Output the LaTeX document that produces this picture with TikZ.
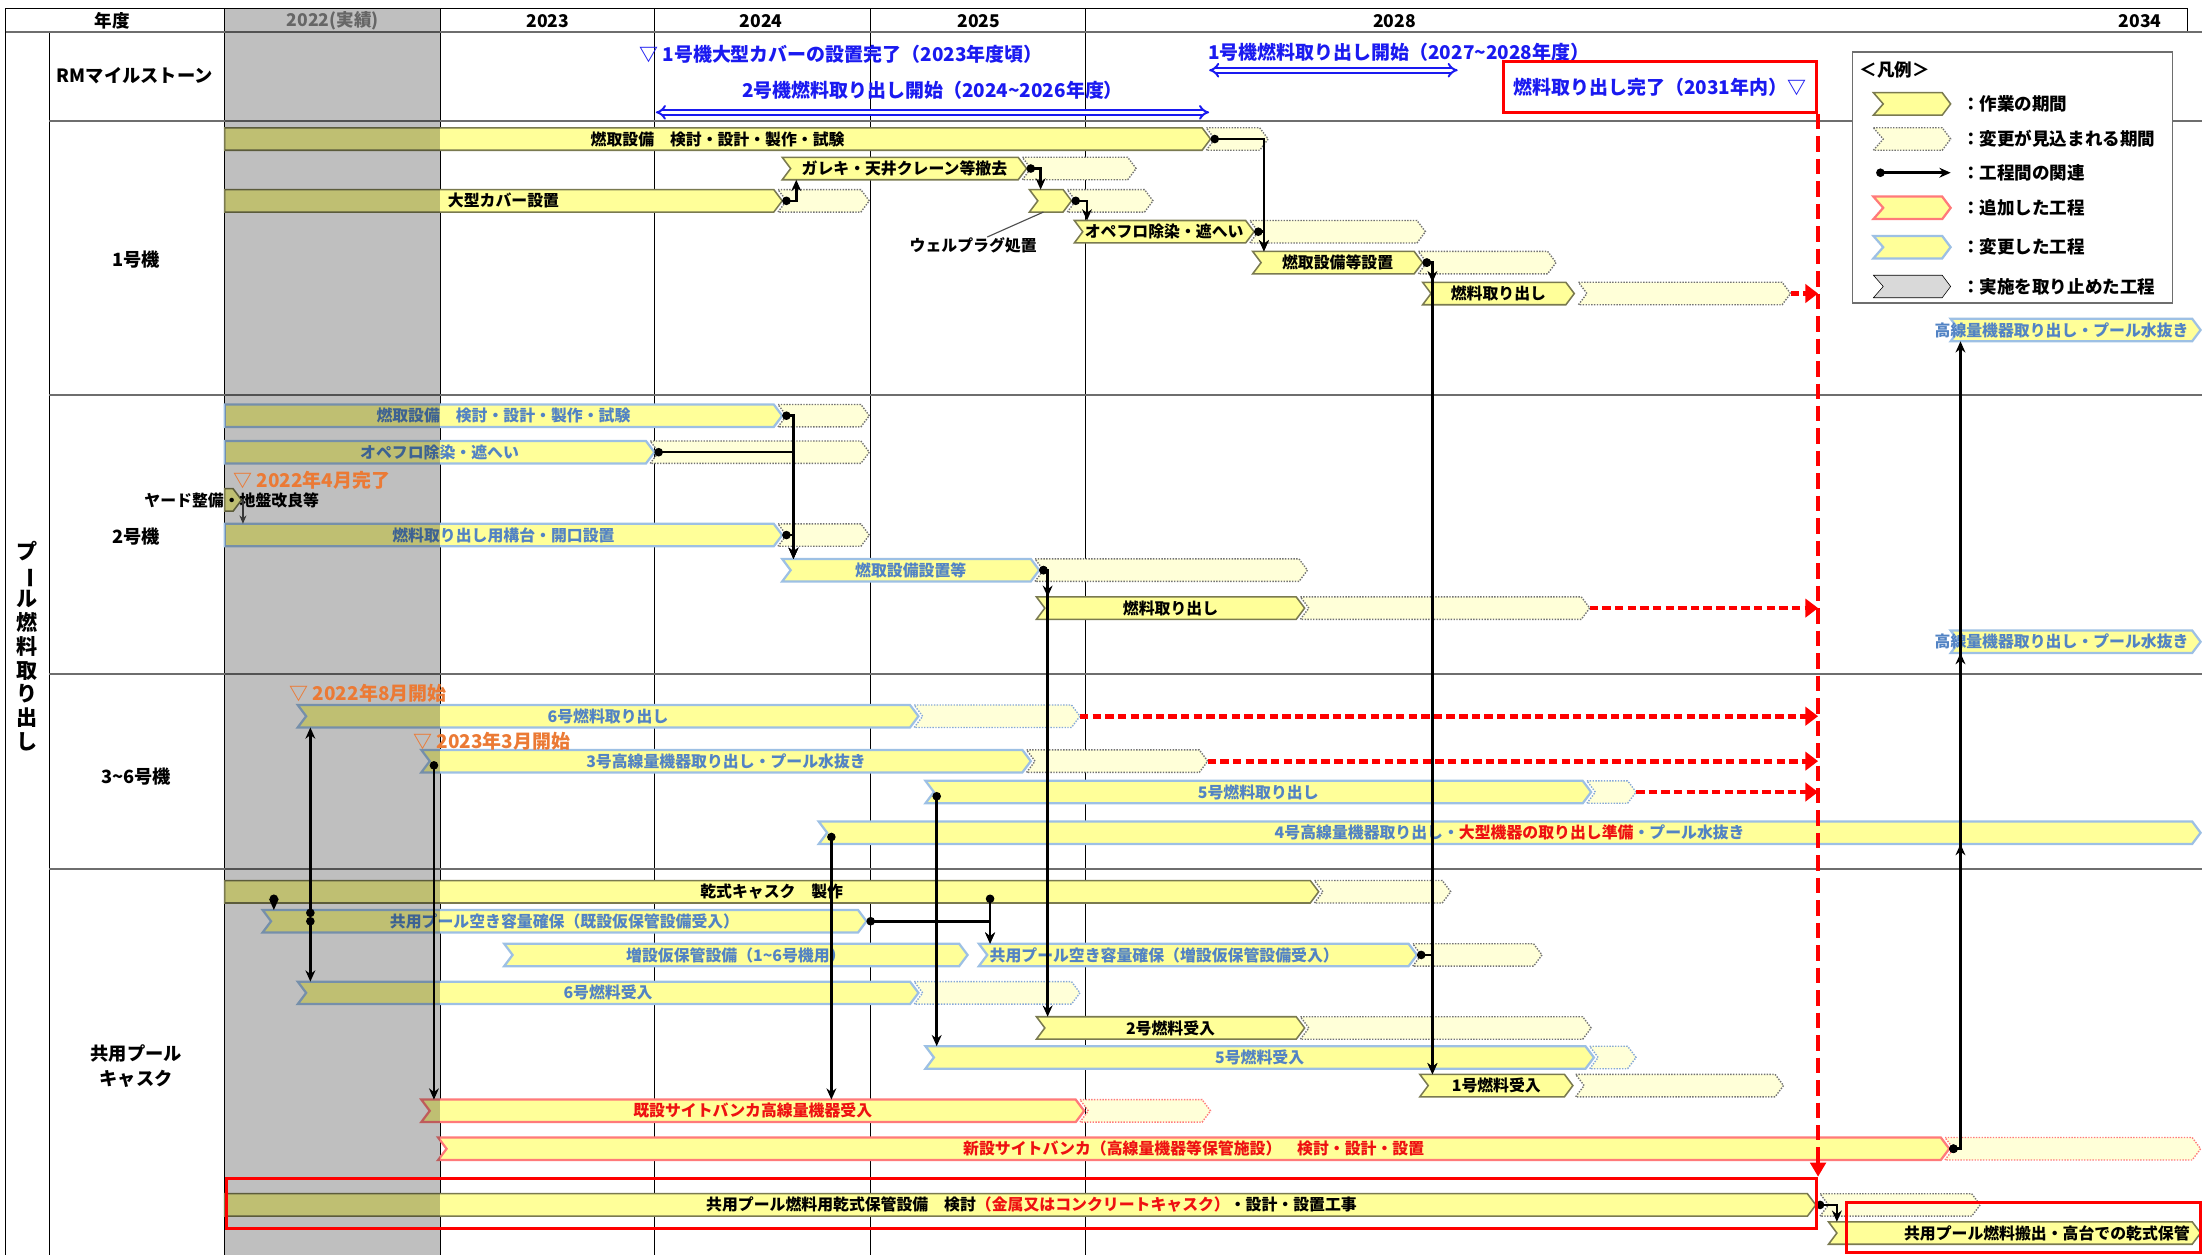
\documentclass[tikz,border=0pt]{standalone}
\usepackage{fontspec}
\setmainfont{Noto Sans CJK JP}
\usepackage{tikz}
\usetikzlibrary{arrows.meta,positioning,calc}
\definecolor{barfill}{HTML}{FFFF99}
\definecolor{slackfill}{HTML}{FFFFD8}
\definecolor{workedge}{HTML}{7A7A50}
\definecolor{chgedge}{HTML}{9DC0E4}
\definecolor{chgink}{HTML}{5283C4}
\definecolor{addedge}{HTML}{FF7A7A}
\definecolor{addink}{HTML}{EE1111}
\definecolor{rmblue}{HTML}{1A1AF0}
\definecolor{msorange}{HTML}{EB7A35}
\definecolor{gridline}{HTML}{6E6E6E}
\definecolor{stopgray}{HTML}{D9D9D9}

% one chevron: style, x start, x end, y, depth of the left notch
\newcommand{\chevron}[5]{\draw[#1] (#2,#4-8) -- (#3-6,#4-8) -- (#3,#4) -- (#3-6,#4+8) -- (#2,#4+8) -- (#2+#5,#4) -- cycle;}
\newcommand{\taskbar}[8][]{%
  \chevron{#3bar}{#4}{#5}{#6}{#7}
  \coordinate (#2-s) at (#4,#6);
  \coordinate (#2-e) at (#5,#6);
  \node[#3text,#1] (#2) at ({(#4+#5)/2},#6) {#8};}
\newcommand{\slackbar}[5]{%
  \chevron{#2slack}{#3}{#4}{#5}{6}
  \coordinate (#1-e) at (#4,#5);}

\tikzset{
  workbar/.style={draw=workedge, fill=barfill, line width=1.1pt},
  chgbar/.style={draw=chgedge, fill=barfill, line width=1.6pt},
  addbar/.style={draw=addedge, fill=barfill, line width=1.6pt},
  stopbar/.style={fill=stopgray},
  workslack/.style={draw=gray!90!black, fill=slackfill, line width=1pt, densely dotted},
  chgslack/.style={draw=chgink!70, fill=slackfill, line width=1pt, densely dotted},
  addslack/.style={draw=addedge, fill=slackfill, line width=1pt, densely dotted},
  worktext/.style={inner sep=0pt, font=\bfseries\fontsize{11.3}{13}\selectfont, text=black},
  chgtext/.style={worktext, text=chgink},
  addtext/.style={worktext, text=addink},
  link/.style={draw=black, line width=1.8pt, {Circle[length=6pt]}-{Stealth[length=8pt,width=7pt]}},
  thinlink/.style={draw=black!70, line width=1pt, -{Stealth[length=6pt,width=5pt]}},
  redflow/.style={draw=red, line width=3.4pt, dash pattern=on 6pt off 3pt, -{Triangle[length=9pt,width=13pt]}},
  redvert/.style={draw=red, line width=2.4pt, dash pattern=on 11pt off 5pt, -{Triangle[length=10pt,width=11pt]}},
  redframe/.style={draw=red, line width=2.2pt},
  rmspan/.style={draw=rmblue, double=white, double distance=2pt, line width=1.4pt, {Implies}-{Implies}},
  rowlab/.style={font=\bfseries\fontsize{13}{18}\selectfont, align=center},
  yearlab/.style={font=\bfseries\fontsize{12.5}{14}\selectfont},
  rmnote/.style={text=rmblue, font=\bfseries\fontsize{13.5}{15}\selectfont, inner sep=0pt},
  msnote/.style={text=msorange, font=\bfseries\fontsize{13.5}{15}\selectfont, inner sep=0pt, anchor=west},
  legendtext/.style={anchor=west, inner sep=0pt, font=\bfseries\fontsize{12.5}{14}\selectfont},
  rowline/.style={draw=gridline, line width=1.5pt},
  colline/.style={draw=black, line width=0.7pt}
}

\begin{document}
\begin{tikzpicture}[x=1pt,y=-1pt]
\useasboundingbox (0,0) rectangle (1568,894);

% table
\draw[colline] (4,6) -- (1558,6) (4,6) -- (4,894) (1558,6) -- (1558,23) (35,23) -- (35,894);
\foreach \x in {160,313.5,466,619.5,773} \draw[colline] (\x,6) -- (\x,894);
\draw[rowline] (4,23) -- (1568,23);
\foreach \y in {86,281,480,619} \draw[rowline] (35,\y) -- (1568,\y);

% 1号機
\taskbar{u1design}{work}{160}{862}{99}{0}{燃取設備　検討・設計・製作・試験}
\slackbar{s1design}{work}{859}{903}{99}
\taskbar{u1debris}{work}{557}{731}{120}{6}{ガレキ・天井クレーン等撤去}
\slackbar{s1debris}{work}{728}{809}{120}
\taskbar{u1cover}{work}{160}{557}{143}{0}{大型カバー設置}
\slackbar{s1cover}{work}{554}{619}{143}
\taskbar{u1plug}{work}{733}{763}{143}{6}{}
\slackbar{s1plug}{work}{760}{821}{143}
\taskbar{u1opfl}{work}{765}{893}{165}{6}{オペフロ除染・遮へい}
\slackbar{s1opfl}{work}{890}{1015}{165}
\taskbar{u1equip}{work}{892}{1013}{187}{6}{燃取設備等設置}
\slackbar{s1equip}{work}{1010}{1108}{187}
\taskbar{u1fuel}{work}{1013}{1121}{209}{6}{燃料取り出し}
\slackbar{s1fuel}{work}{1124}{1275}{209}
\taskbar[xshift=-10pt]{u1hdose}{chg}{1389}{1567}{235}{6}{高線量機器取り出し・プール水抜き}
\node[worktext] (pluglab) at (693,174.5) {ウェルプラグ処置};
\draw[black!70, line width=0.8pt] ($(pluglab.north)+(10,0)$) -- ($(u1plug-s)+(10,8)$);

% 2号機
\taskbar{u2design}{chg}{160}{557}{296}{0}{燃取設備　検討・設計・製作・試験}
\slackbar{s2design}{work}{554}{619}{296}
\taskbar{u2opfl}{chg}{160}{466}{322}{0}{オペフロ除染・遮へい}
\slackbar{s2opfl}{work}{463}{619}{322}
\taskbar{u2yard}{work}{160}{172}{356}{0}{}
\node[worktext] (yardlab) at (165,356) {ヤード整備・地盤改良等};
\taskbar{u2stage}{chg}{160}{557}{381}{0}{燃料取り出し用構台・開口設置}
\slackbar{s2stage}{work}{554}{619}{381}
\taskbar{u2equip}{chg}{557}{740}{406}{6}{燃取設備設置等}
\slackbar{s2equip}{work}{737}{931}{406}
\taskbar{u2fuel}{work}{738}{929}{433}{6}{燃料取り出し}
\slackbar{s2fuel}{work}{926}{1132}{433}
\taskbar[xshift=-10pt]{u2hdose}{chg}{1389}{1567}{457}{6}{高線量機器取り出し・プール水抜き}

% 3~6号機
\taskbar{u6fuel}{chg}{212}{654}{510}{6}{6号燃料取り出し}
\slackbar{s6fuel}{chg}{651}{769}{510}
\taskbar{u3hdose}{chg}{300}{734}{542}{6}{3号高線量機器取り出し・プール水抜き}
\slackbar{s3hdose}{work}{731}{860}{542}
\taskbar{u5fuel}{chg}{659}{1133}{564}{6}{5号燃料取り出し}
\slackbar{s5fuel}{chg}{1130}{1165}{564}
\taskbar{u4hdose}{chg}{583}{1567}{593}{6}{4号高線量機器取り出し・\textcolor{addink}{大型機器の取り出し準備}・プール水抜き}

% 共用プール・キャスク
\taskbar{cask}{work}{160}{939}{635}{0}{乾式キャスク　製作}
\slackbar{scask}{work}{936}{1033}{635}
\taskbar{pool1}{chg}{187}{617}{656}{6}{共用プール空き容量確保（既設仮保管設備受入）}
\taskbar{tempst}{chg}{359}{689}{680}{6}{増設仮保管設備（1\textasciitilde 6号機用）}
\taskbar[xshift=-24pt]{pool2}{chg}{697}{1009}{680}{6}{共用プール空き容量確保（増設仮保管設備受入）}
\slackbar{spool2}{work}{1006}{1098}{680}
\taskbar{recv6}{chg}{212}{654}{707}{6}{6号燃料受入}
\slackbar{srecv6}{chg}{651}{769}{707}
\taskbar{recv2}{work}{738}{929}{732}{6}{2号燃料受入}
\slackbar{srecv2}{work}{926}{1133}{732}
\taskbar{recv5}{chg}{659}{1135}{753}{6}{5号燃料受入}
\slackbar{srecv5}{chg}{1132}{1165}{753}
\taskbar{recv1}{work}{1011}{1120}{773}{6}{1号燃料受入}
\slackbar{srecv1}{work}{1122}{1270}{773}
\taskbar{oldbunk}{add}{300}{772}{791}{6}{既設サイトバンカ高線量機器受入}
\slackbar{soldbunk}{add}{769}{862}{791}
\taskbar{newbunk}{add}{312}{1388}{818}{6}{新設サイトバンカ（高線量機器等保管施設）　検討・設計・設置}
\slackbar{snewbunk}{add}{1385}{1567}{818}
\taskbar[xshift=8pt]{drystore}{work}{160}{1293}{858}{0}{共用プール燃料用乾式保管設備　検討\textcolor{addink}{（金属又はコンクリートキャスク）}・設計・設置工事}
\slackbar{sdrystore}{work}{1296}{1410}{858}
\taskbar[xshift=23pt]{carryout}{work}{1302}{1567}{878}{6}{共用プール燃料搬出・高台での乾式保管}

% relations
\draw[link] (u1cover-e) -| ($(u1debris-s)+(10,8)$);
\draw[link] (u1debris-e) -| ($(u1plug-s)+(8,-8)$);
\draw[link] (u1plug-e) -| ($(u1opfl-s)+(9,-8)$);
\draw[link] (u1design-e) -| ($(u1equip-s)+(8,-8)$);
\draw[link] (u1opfl-e) -| ($(u1equip-s)+(8,-8)$);
\draw[link] (u1equip-e) -| ($(u1fuel-s)+(7,-8)$);
\draw[link] (u1equip-e) -| ($(recv1-s)+(9,-8)$);
\draw[link] (u2design-e) -| ($(u2equip-s)+(8,-8)$);
\draw[link] (u2opfl-e) -| ($(u2equip-s)+(8,-8)$);
\draw[link] (u2stage-e) -| ($(u2equip-s)+(8,-8)$);
\draw[thinlink] (u2yard-e) -| ($(u2stage-s)+(13,-8)$);
\draw[link] (u2equip-e) -| ($(u2fuel-s)+(8,-8)$);
\draw[link] (u2equip-e) -| ($(recv2-s)+(8,-8)$);
\coordinate (p6) at (221,653);
\coordinate (c1) at (195,637);
\coordinate (c2) at (705,637);
\draw[link] (p6) -- ($(u6fuel-s)+(9,8)$);
\draw[link] (p6) -- ($(recv6-s)+(9,-8)$);
\draw[link] (c1) -- ($(pool1-s)+(8,-8)$);
\draw[link] ($(u3hdose-s)+(9,0)$) -- ($(oldbunk-s)+(9,-8)$);
\draw[link] ($(u4hdose-s)+(9,0)$) -- ($(u4hdose-s |- oldbunk-s)+(9,-8)$);
\draw[link] ($(u5fuel-s)+(8,0)$) -- ($(recv5-s)+(8,-8)$);
\draw[link] (c2) -- ($(pool2-s)+(8,-8)$);
\draw[link] (pool1-e) -| ($(pool2-s)+(8,-8)$);
\draw[link] (pool2-e) -| ($(recv1-s)+(9,-8)$);
\draw[link] (newbunk-e) -| ($(u4hdose-s -| u1hdose-s)+(7,8)$);
\draw[link] (newbunk-e) -| ($(u2hdose-s)+(7,8)$);
\draw[link] (newbunk-e) -| ($(u1hdose-s)+(7,8)$);
\draw[link] (drystore-e) -| ($(carryout-s)+(6,-8)$);

% 2022 (actual) column
\fill[black, opacity=0.25] (160,6) rectangle (313.5,894);

% header and row titles
\node[yearlab] (hdyear) at (80,15) {年度};
\node[yearlab, text=black!60] (hd2022) at (237,15) {2022(実績)};
\node[yearlab] (hd2023) at (390,15) {2023};
\node[yearlab] (hd2024) at (542,15) {2024};
\node[yearlab] (hd2025) at (697,15) {2025};
\node[yearlab] (hd2028) at (993,15) {2028};
\node[yearlab] (hd2034) at (1524,15) {2034};
\node[rowlab] (rmrow) at (96,54) {RMマイルストーン};
\node[rowlab] (u1row) at (97,185) {1号機};
\node[rowlab] (u2row) at (97,382) {2号機};
\node[rowlab] (u36row) at (97,553) {3\textasciitilde 6号機};
\node[rowlab] (poolrow) at (97,759) {共用プール\\キャスク};
\node[font=\bfseries\fontsize{15}{16.9}\selectfont, align=center] (poolfuel) at (19.5,460) {プ\\\rotatebox[origin=c]{-90}{ー}\\ル\\燃\\料\\取\\り\\出\\し};

% RM milestones
\node[rmnote, anchor=west] (rmcover) at (455,39) {▽ 1号機大型カバーの設置完了（2023年度頃）};
\node[rmnote] (rmu2) at (664,64) {2号機燃料取り出し開始（2024\textasciitilde 2026年度）};
\coordinate (rmu2a) at (467,80);
\coordinate (rmu2b) at (861,80);
\draw[rmspan] (rmu2a) -- (rmu2b);
\node[rmnote] (rmu1) at (996,37) {1号機燃料取り出し開始（2027\textasciitilde 2028年度）};
\coordinate (rmu1a) at (861,50);
\coordinate (rmu1b) at (1038,50);
\draw[rmspan] (rmu1a) -- (rmu1b);
\node[redframe, rmnote, minimum width=223pt, minimum height=36pt] (rmdone) at (1182,62) {燃料取り出し完了（2031年内）▽};

% start / finish notes
\node[msnote] (ms1) at (166,342) {▽ 2022年4月完了};
\node[msnote] (ms2) at (206,494) {▽ 2022年8月開始};
\node[msnote] (ms3) at (294,528) {▽ 2023年3月開始};

% red frames and deadline
\node[redframe, minimum width=1132pt, minimum height=36pt, inner sep=0pt] (storebox) at (727.3,857) {};
\node[redframe, minimum width=252pt, minimum height=36pt, inner sep=0pt] (carrybox) at (1441,874) {};
\draw[redvert] (rmdone.south east) -- (rmdone.south east |- storebox.north);
\foreach \nm in {s1fuel,s2fuel,s6fuel,s3hdose,s5fuel}
  \draw[redflow] (\nm-e) -- (\nm-e -| rmdone.south east);

% legend
\node[draw=gridline, fill=white, line width=1.2pt, minimum width=228pt, minimum height=179pt] (legend) at (1433,126.5) {};
\node[legendtext] (lgtitle) at (1324,50) {＜凡例＞};
\chevron{workbar}{1334}{1389}{74}{7}
\node[legendtext] (lg1) at (1397,74) {：作業の期間};
\chevron{workslack}{1334}{1389}{99}{7}
\node[legendtext] (lg2) at (1397,99) {：変更が見込まれる期間};
\coordinate (lgA) at (1336,123);
\coordinate (lgB) at (1389,123);
\draw[link] (lgA) -- (lgB);
\node[legendtext] (lg3) at (1397,123) {：工程間の関連};
\chevron{addbar}{1334}{1389}{148}{7}
\node[legendtext] (lg4) at (1397,148) {：追加した工程};
\chevron{chgbar}{1334}{1389}{176}{7}
\node[legendtext] (lg5) at (1397,176) {：変更した工程};
\chevron{stopbar}{1334}{1389}{204}{7}
\node[legendtext] (lg6) at (1397,204) {：実施を取り止めた工程};
\end{tikzpicture}
\end{document}
